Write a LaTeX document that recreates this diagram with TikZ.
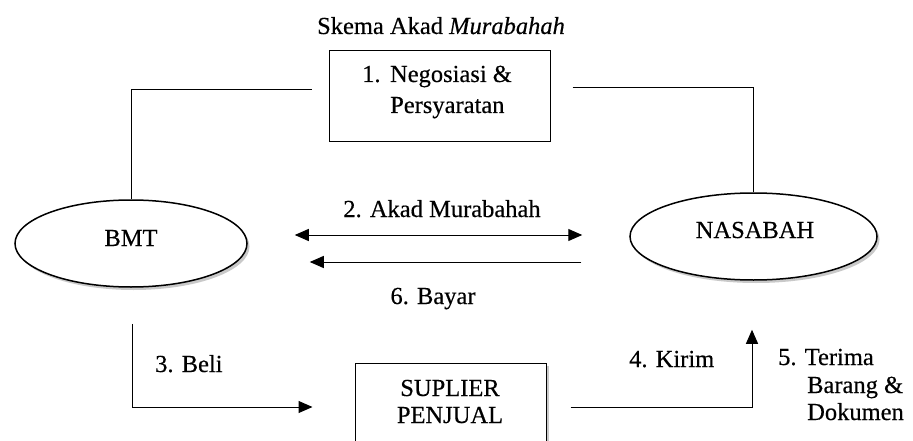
\documentclass[tikz,border=0pt]{standalone}
\usepackage{fontspec}
\setmainfont{Liberation Serif}[FakeBold=0.4]
\usetikzlibrary{arrows.meta,shadows,shapes.geometric,calc}
\begin{document}
\begin{tikzpicture}[x=1pt,y=-1pt,
  font=\fontsize{24.5}{29}\selectfont,
  line/.style={draw=black, line width=1pt},
  arr/.style={line, -{Triangle[length=14pt,width=12pt]}},
  darr/.style={line, {Triangle[length=14pt,width=12pt]}-{Triangle[length=14pt,width=12pt]}},
  oval/.style={ellipse, draw, line width=1.5pt, fill=white, minimum width=232pt, minimum height=87pt, inner sep=0pt,
    drop shadow={shadow xshift=2.5pt, shadow yshift=-3pt, opacity=0.35, fill=black!60}},
  sbox/.style={rectangle, draw, line width=1pt, fill=white, inner sep=0pt},
  lbl/.style={inner sep=0pt, anchor=base},
  lblw/.style={inner sep=0pt, anchor=base west}]
\useasboundingbox (0,0) rectangle (913,441);
\clip (0,0) rectangle (913,441);
\fill[white] (0,0) rectangle (913,441);

% title
\node[lbl] (title) at (441,34) {Skema Akad \textit{Murabahah}};

% box 1
\node[sbox, minimum width=221pt, minimum height=91pt] (n1) at (439.5,96.5) {};
\node[lblw] (n1a) at (362,82) {1.\hspace{9.5pt}Negosiasi \&};
\node[lblw] (n1b) at (390,113) {Persyaratan};

% ellipses
\node[oval] (bmt) at (131,243.5) {};
\node[lbl] (bmtt) at (131,246) {BMT};
\node[oval, minimum width=247pt] (nas) at (753.5,236.5) {};
\node[lbl] (nast) at (755,238) {NASABAH};

% supplier box
\node[sbox, minimum width=191pt, minimum height=90pt,
  drop shadow={shadow xshift=3pt, shadow yshift=-3pt, opacity=0.35, fill=black!60}] (sup) at (450.5,408) {};
\node[lbl] (supa) at (450,396) {SUPLIER};
\node[lbl] (supb) at (450,423) {PENJUAL};

% connectors
\draw[line] ($(n1.west)+(-17,-6.5)$) -| (bmt.north);
\draw[line] ($(n1.east)+(22,-8.5)$) -| (nas.north);
\draw[darr] ($(bmt.east)+(47,-8.5)$) -- ($(nas.west)+(-47,-1.5)$);
\draw[arr] ($(nas.west)+(-48,25.5)$) -- ($(bmt.east)+(62,18.5)$);
\draw[arr] ($(bmt.south)+(1,36)$) |- ($(sup.west)+(-42,-1)$);
\draw[arr] ($(sup.east)+(24,-1)$) -| ($(nas.south)+(-1.5,49)$);

% labels
\node[lbl] (l2) at (442,217) {2. Akad Murabahah};
\node[lbl] (l6) at (433,304) {6. Bayar};
\node[lblw] (l3) at (155,372) {3. Beli};
\node[lblw] (l4) at (629,367) {4. Kirim};
\node[lblw] (l5a) at (778,365) {5. Terima};
\node[lblw] (l5b) at (807,393) {Barang \&};
\node[lblw] (l5c) at (807,420) {Dokumen};
\end{tikzpicture}
\end{document}
